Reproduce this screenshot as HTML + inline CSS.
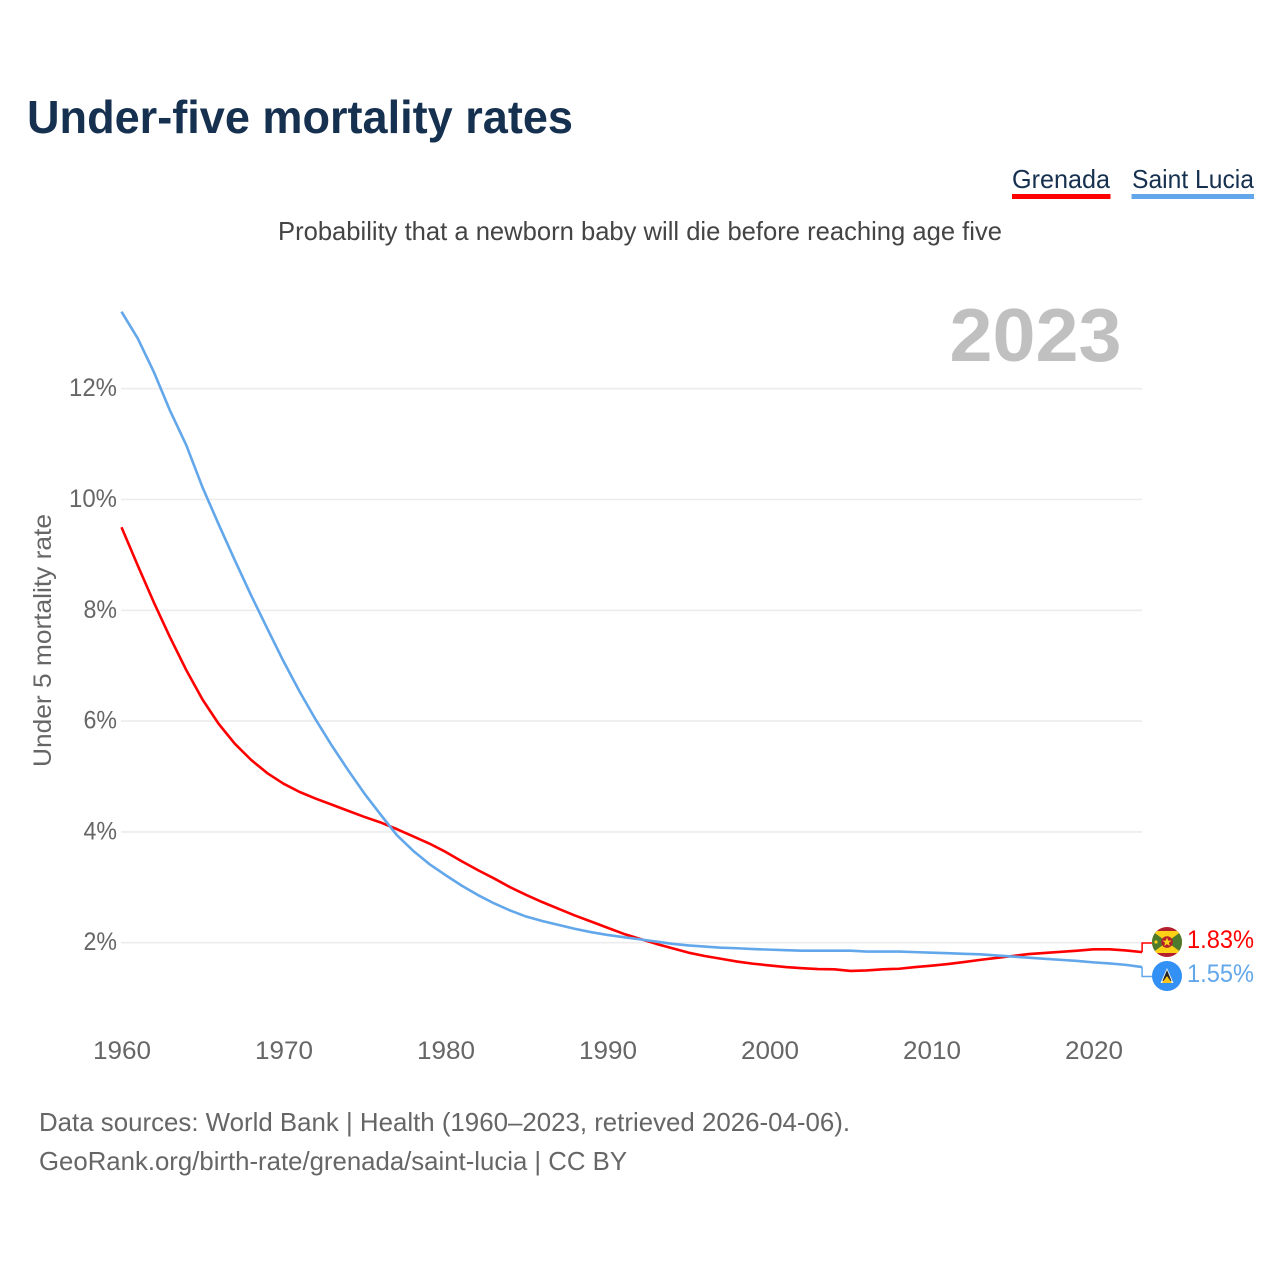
<!DOCTYPE html>
<html lang="en">
<head>
<meta charset="utf-8">
<title>Under-five mortality rates</title>
<style>
html,body{margin:0;padding:0;background:#fff;width:1280px;height:1280px;overflow:hidden}
svg{display:block}
text{font-family:"Liberation Sans",sans-serif}
</style>
</head>
<body>
<svg id="chart" xmlns="http://www.w3.org/2000/svg" width="1280" height="1280" viewBox="0 0 1280 1280">
  <rect x="0" y="0" width="1280" height="1280" fill="#fff"/>
  <text x="27" y="133" font-size="46" font-weight="700" fill="#16304f" textLength="546" lengthAdjust="spacingAndGlyphs">Under-five mortality rates</text>
  <g>
    <text x="1012" y="188" font-size="26" fill="#16304f" textLength="98" lengthAdjust="spacingAndGlyphs">Grenada</text>
    <rect x="1012" y="194" width="98.5" height="5" fill="#ff0000"/>
  </g>
  <g>
    <text x="1132" y="188" font-size="26" fill="#16304f" textLength="122" lengthAdjust="spacingAndGlyphs">Saint Lucia</text>
    <rect x="1131.5" y="194" width="122.5" height="5" fill="#63a7eb"/>
  </g>
  <text x="278" y="240" font-size="26" fill="#444" textLength="724" lengthAdjust="spacingAndGlyphs">Probability that a newborn baby will die before reaching age five</text>
  <text x="949.5" y="361" font-size="75" font-weight="700" fill="#c0c0c0" textLength="172" lengthAdjust="spacingAndGlyphs">2023</text>
  <text transform="translate(51,767) rotate(-90)" x="0" y="0" font-size="25" fill="#666" textLength="253" lengthAdjust="spacingAndGlyphs">Under 5 mortality rate</text>
  <g id="grid"></g>
  <g id="yticks"></g>
  <g id="xticks"></g>
  <g id="series"></g>
  <g id="ends"></g>

  <defs>
    <clipPath id="clip-gd"><circle cx="1167" cy="942" r="15"/></clipPath>
    <clipPath id="clip-lc"><circle cx="1167" cy="976" r="15"/></clipPath>
  </defs>
  <g clip-path="url(#clip-gd)">
    <rect x="1152" y="927" width="30" height="30" fill="#b3202c"/>
    <rect x="1152" y="931" width="30" height="22" fill="#fcd116"/>
    <polygon points="1152,931 1167,942 1152,953" fill="#4d7a2c"/>
    <polygon points="1182,931 1167,942 1182,953" fill="#4d7a2c"/>
    <circle cx="1167" cy="942" r="5.8" fill="#b3202c"/>
    <polygon points="1167,937.5 1168.2,940.6 1171.5,940.6 1168.9,942.7 1169.8,946 1167,944.1 1164.2,946 1165.1,942.7 1162.5,940.6 1165.8,940.6" fill="#fcd116"/>
    <circle cx="1156" cy="942" r="1.6" fill="#fcd116"/>
  </g>
  <g clip-path="url(#clip-lc)">
    <rect x="1152" y="961" width="30" height="30" fill="#3390f5"/>
    <polygon points="1167,968 1173.5,983 1160.5,983" fill="#f4f4f4"/>
    <polygon points="1167,970 1171.5,981 1162.5,981" fill="#222"/>
    <polygon points="1167,976 1172,983 1162,983" fill="#f5c518"/>
  </g>

  <text x="39" y="1131" font-size="26" fill="#666" textLength="811" lengthAdjust="spacingAndGlyphs">Data sources: World Bank | Health (1960–2023, retrieved 2026-04-06).</text>
  <text x="39" y="1170" font-size="26" fill="#666" textLength="588" lengthAdjust="spacingAndGlyphs">GeoRank.org/birth-rate/grenada/saint-lucia | CC BY</text>
</svg>
<script>
const startYear = 1960;
const xTickYears = [1960, 1970, 1980, 1990, 2000, 2010, 2020];
const yTickValues = [2, 4, 6, 8, 10, 12];
const grenadaValues = [9.5, 8.81, 8.14, 7.51, 6.92, 6.39, 5.95, 5.59, 5.3, 5.06, 4.87, 4.72, 4.6, 4.49, 4.38, 4.27, 4.17, 4.05, 3.92, 3.79, 3.64, 3.47, 3.31, 3.16, 3.0, 2.86, 2.73, 2.61, 2.49, 2.38, 2.27, 2.16, 2.07, 1.98, 1.9, 1.82, 1.76, 1.71, 1.66, 1.62, 1.59, 1.56, 1.54, 1.525, 1.52, 1.49, 1.5, 1.52, 1.53, 1.56, 1.585, 1.615, 1.65, 1.69, 1.725, 1.76, 1.795, 1.815, 1.835, 1.855, 1.88, 1.88, 1.86, 1.83];
const saintLuciaValues = [13.39, 12.91, 12.3, 11.6, 10.98, 10.22, 9.55, 8.9, 8.27, 7.67, 7.08, 6.53, 6.02, 5.55, 5.11, 4.69, 4.31, 3.94, 3.66, 3.42, 3.22, 3.03, 2.86, 2.71, 2.58, 2.47, 2.39, 2.32, 2.25, 2.19, 2.14, 2.1, 2.06, 2.02, 1.98, 1.95, 1.93, 1.91, 1.9, 1.885, 1.875, 1.865, 1.855, 1.855, 1.855, 1.855, 1.84, 1.84, 1.84, 1.83, 1.82, 1.81, 1.8, 1.79, 1.77, 1.75, 1.73, 1.71, 1.69, 1.67, 1.645, 1.625, 1.6, 1.56];
const grenadaEndLabel = "1.83%";
const saintLuciaEndLabel = "1.55%";

const NS = "http://www.w3.org/2000/svg";
const xScale = year => 121.5 + (year - 1960) * 16.2;
const yScale = value => 942.7 - (value - 2) * 55.4;
const plotRight = xScale(2023);

function make(parent, tag, attrs, text) {
  const el = document.createElementNS(NS, tag);
  for (const k in attrs) el.setAttribute(k, attrs[k]);
  if (text !== undefined) el.textContent = text;
  parent.appendChild(el);
  return el;
}

const gridGroup = document.getElementById("grid");
const yTickGroup = document.getElementById("yticks");
yTickValues.forEach(v => {
  const y = yScale(v);
  const line = make(gridGroup, "line", {x1: 121, x2: plotRight, y1: y, y2: y, stroke: "#ececec", "stroke-width": 1.6});
  
  
  const label = v + "%";
  const digits = String(v).length;
  const t = make(yTickGroup, "text", {x: 117, y: y + 7.5, "text-anchor": "end", "font-size": 25, fill: "#666", textLength: 14.5 * digits + 19, lengthAdjust: "spacingAndGlyphs"}, label);
  
  
});

const xTickGroup = document.getElementById("xticks");
xTickYears.forEach(year => {
  const t = make(xTickGroup, "text", {x: xScale(year) + 0.5, y: 1059, "text-anchor": "middle", "font-size": 25, fill: "#666", textLength: 58, lengthAdjust: "spacingAndGlyphs"}, String(year));
  
  
});

function pathFor(values) {
  return values.map((v, i) => (i ? "L" : "M") + xScale(startYear + i).toFixed(2) + " " + yScale(v).toFixed(2)).join(" ");
}

const seriesGroup = document.getElementById("series");
const endGroup = document.getElementById("ends");

const redLine = make(seriesGroup, "path", {d: pathFor(grenadaValues), fill: "none", stroke: "#ff0000", "stroke-width": 2.6, "stroke-linejoin": "round"});



const blueLine = make(seriesGroup, "path", {d: pathFor(saintLuciaValues), fill: "none", stroke: "#63a7eb", "stroke-width": 2.6, "stroke-linejoin": "round"});



const redEndY = yScale(grenadaValues[grenadaValues.length - 1]);
const blueEndY = yScale(saintLuciaValues[saintLuciaValues.length - 1]);

const redConn = make(endGroup, "path", {d: `M${plotRight} ${redEndY} V943 H1153`, fill: "none", stroke: "#ff0000", "stroke-width": 1.5});



const blueConn = make(endGroup, "path", {d: `M${plotRight} ${blueEndY} V976.5 H1153`, fill: "none", stroke: "#63a7eb", "stroke-width": 1.5});



const redValue = make(endGroup, "text", {x: 1187, y: 948, "font-size": 25, fill: "#ff0000", textLength: 67, lengthAdjust: "spacingAndGlyphs"}, grenadaEndLabel);



const blueValue = make(endGroup, "text", {x: 1187, y: 982, "font-size": 25, fill: "#63a7eb", textLength: 67, lengthAdjust: "spacingAndGlyphs"}, saintLuciaEndLabel);


</script>
</body>
</html>
